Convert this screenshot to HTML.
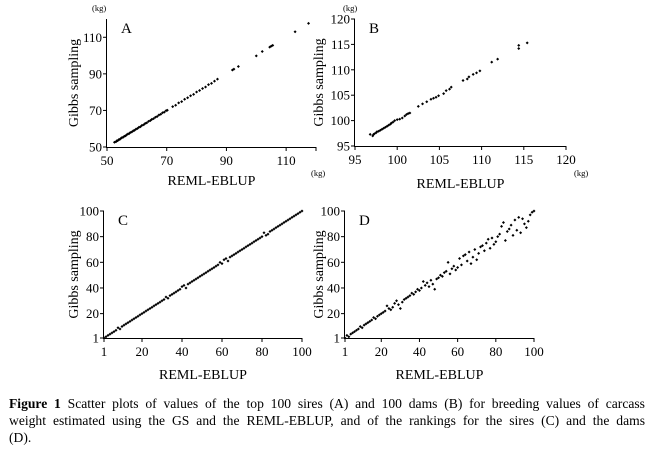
<!DOCTYPE html>
<html><head><meta charset="utf-8"><style>
body{margin:0;background:#fff;width:652px;height:459px;overflow:hidden;font-family:"Liberation Serif",serif;}
svg{position:absolute;left:0;top:0}
svg text{font-family:"Liberation Serif",serif !important;}
.cap{position:absolute;left:9px;width:636px;font-size:13.6px;line-height:17px;color:#000;}
.cap div{text-align:justify;text-align-last:justify;white-space:nowrap}
.cap div.last{text-align-last:left}
</style></head><body>
<svg id="fig" width="652" height="459"></svg>
<div class="cap" style="top:395px">
<div style="white-space:normal"><b>Figure 1</b> Scatter plots of values of the top 100 sires (A) and 100 dams (B) for breeding values of carcass</div>
<div style="white-space:normal">weight estimated using the GS and the REML-EBLUP, and of the rankings for the sires (C) and the dams</div>
<div class="last">(D).</div>
</div>
<script>
const aX=[52.5,53,53.3,53.6,54,54.3,54.7,55,55.4,55.8,56.2,56.6,57,57.4,57.8,58.3,58.8,59.2,59.7,60.2,60.7,61.2,61.7,62.3,62.8,63.3,63.9,64.5,65,65.6,66.2,66.8,67.4,68,68.6,69.2,69.8,70.2,72,73,74,75,76,77,78,79,80,81,82,83,84,85,86,87,92,92.5,94,100,102,104.5,105,105.5,113,117.5];
const aY=[52.6,52.9,53.4,53.5,54.1,54.2,54.8,55.1,55.3,55.9,56.1,56.7,57.1,57.3,57.9,58.2,58.9,59.1,59.8,60.1,60.8,61.1,61.8,62.2,62.9,63.2,64,64.4,65.1,65.5,66.3,66.7,67.5,67.9,68.7,69.1,69.9,70.1,72.1,72.8,74.1,74.8,76.1,76.9,78,78.8,80.1,80.9,82,82.8,84.1,84.8,86,87.1,92.1,92.6,94,99.8,102.2,104.6,105.2,105.6,113,117.6];
const bX=[96.8,97.1,97.2,97.3,97.5,97.6,97.8,98,98.2,98.4,98.6,98.8,99,99.2,99.3,99.5,99.7,100,100.3,100.6,100.9,101.1,101.3,101.5,102.5,103,103.5,104,104.3,104.6,104.9,105.5,105.8,106.2,106.4,107.8,108.3,108.5,109,109.4,109.8,111.2,111.9,114.4,114.4,115.4];
const bY=[97.3,97.0,97.3,97.4,97.6,97.8,97.9,98.1,98.3,98.5,98.7,98.9,99.1,99.3,99.5,99.7,100,100.2,100.3,100.5,100.9,101.2,101.4,101.5,102.8,103.3,103.7,104.2,104.4,104.6,104.9,105.3,105.9,106.2,106.6,107.9,108.2,108.6,109.1,109.4,109.8,111.5,112.1,114.2,114.8,115.3];
const rankX=[1,2,3,4,5,6,7,8,9,10,11,12,13,14,15,16,17,18,19,20,21,22,23,24,25,26,27,28,29,30,31,32,33,34,35,36,37,38,39,40,41,42,43,44,45,46,47,48,49,50,51,52,53,54,55,56,57,58,59,60,61,62,63,64,65,66,67,68,69,70,71,72,73,74,75,76,77,78,79,80,81,82,83,84,85,86,87,88,89,90,91,92,93,94,95,96,97,98,99,100];
const cY=[1,2,3,4,5,6,7,9,8,10,11,12,13,14,15,16,17,18,19,20,21,22,23,24,25,26,27,28,29,30,31,33,32,34,35,36,37,38,39,41,42,40,43,44,45,46,47,48,49,50,51,52,53,54,55,56,57,58,60,59,62,63,61,64,65,66,67,68,69,70,71,72,73,74,75,76,77,78,79,80,83,81,82,84,85,86,87,88,89,90,91,92,93,94,95,96,97,98,99,100];
const dY=[1,3,2,4,5,6,7,8,10,9,11,12,13,14,15,17,16,18,19,20,21,22,26,24,23,25,28,30,27,24,29,31,32,33,34,36,35,37,39,38,40,45,42,44,41,46,43,39,47,48,50,49,52,53,60,51,55,57,54,56,63,58,65,66,61,68,59,64,70,62,67,72,73,69,75,78,71,79,74,76,80,82,88,91,77,84,86,89,81,93,85,95,83,94,90,87,92,97,99,100];
const aTicksY=[50,70,90,110], aTicksX=[50,70,90,110];
const bTicks=[95,100,105,110,115,120];
const rTicksY=[1,20,40,60,80,100], rTicksX=[1,20,40,60,80,100];

const svg=document.getElementById('fig');
const NS='http://www.w3.org/2000/svg';
function el(t,a,p){const e=document.createElementNS(NS,t);for(const k in a)e.setAttribute(k,a[k]);(p||svg).appendChild(e);return e;}
function txt(s,a,p){const e=el('text',Object.assign({fill:'#000','font-family':"'Liberation Serif', serif"},a),p);e.style.fontFamily='"Liberation Serif", serif';e.textContent=s;return e;}

function panel(o){
  const g=el('g',{});
  
  
  const sx=v=>o.x0+(v-o.xmin)/(o.xmax-o.xmin)*(o.x1-o.x0);
  const sy=v=>o.y0-(v-o.ymin)/(o.ymax-o.ymin)*(o.y0-o.y1);
  const ax=el('path',{d:`M${o.x0-0.5},${o.y1} V${o.y0+0.5} H${o.x1}`,stroke:'#000','stroke-width':1,fill:'none'},g);
  
  
  o.ty.forEach(v=>{const y=sy(v);el('line',{x1:o.x0-4,x2:o.x0,y1:y,y2:y,stroke:'#000'},g);
    const t=txt(String(v),{x:o.x0-5,y:y+4.5,'text-anchor':'end','font-size':13},g);
    
    });
  o.tx.forEach(v=>{const x=sx(v);el('line',{x1:x,x2:x,y1:o.y0,y2:o.y0+4,stroke:'#000'},g);
    const t=txt(String(v),{x:x,y:o.y0+18,'text-anchor':'middle','font-size':13},g);
    
    });
  if(o.xend){el('line',{x1:o.x1,x2:o.x1,y1:o.y0,y2:o.y0+4,stroke:'#000'},g);}
  o.X.forEach((v,i)=>{const x=sx(v),y=sy(o.Y[i]);
    const p=el('path',{d:`M${x-1.5},${y} L${x},${y-1.5} L${x+1.5},${y} L${x},${y+1.5}Z`,fill:'#000'},g);
    
    });
  const L=txt(o.letter,{x:o.x0+14,y:o.y1+14,'font-size':15},g);
  
  
  const xl=txt('REML-EBLUP',{x:(o.x0+o.x1)/2,y:o.xly,'text-anchor':'middle','font-size':14},g);
  
  
  const cy=(o.y0+o.y1)/2;
  const yl=txt('Gibbs sampling',{x:o.ylx,y:cy,'text-anchor':'middle','font-size':14,transform:`rotate(-90 ${o.ylx} ${cy})`},g);
  
  
  return g;
}
panel({name:'panel-a',letter:'A',x0:107,x1:316,y0:147,y1:19,xmin:50,xmax:120,ymin:50,ymax:120,X:aX,Y:aY,tx:aTicksX,ty:aTicksY,xend:true,xly:185,ylx:78});
panel({name:'panel-b',letter:'B',x0:355,x1:566,y0:146,y1:19,xmin:95,xmax:120,ymin:95,ymax:120,X:bX,Y:bY,tx:bTicks,ty:bTicks,xly:188,ylx:323});
panel({name:'panel-c',letter:'C',x0:104,x1:302,y0:338,y1:211,xmin:1,xmax:100,ymin:1,ymax:100,X:rankX,Y:cY,tx:rTicksX,ty:rTicksY,xly:379,ylx:78});
panel({name:'panel-d',letter:'D',x0:345,x1:534,y0:338,y1:211,xmin:1,xmax:100,ymin:1,ymax:100,X:rankX,Y:dY,tx:rTicksX,ty:rTicksY,xly:379,ylx:323});
[[92,11,'unit-a-y'],[311,176,'unit-a-x'],[343,11,'unit-b-y'],[574,176,'unit-b-x']].forEach(u=>{
  const t=txt('(kg)',{x:u[0],y:u[1],'font-size':8.5});
  
  
});
</script>
</body></html>
